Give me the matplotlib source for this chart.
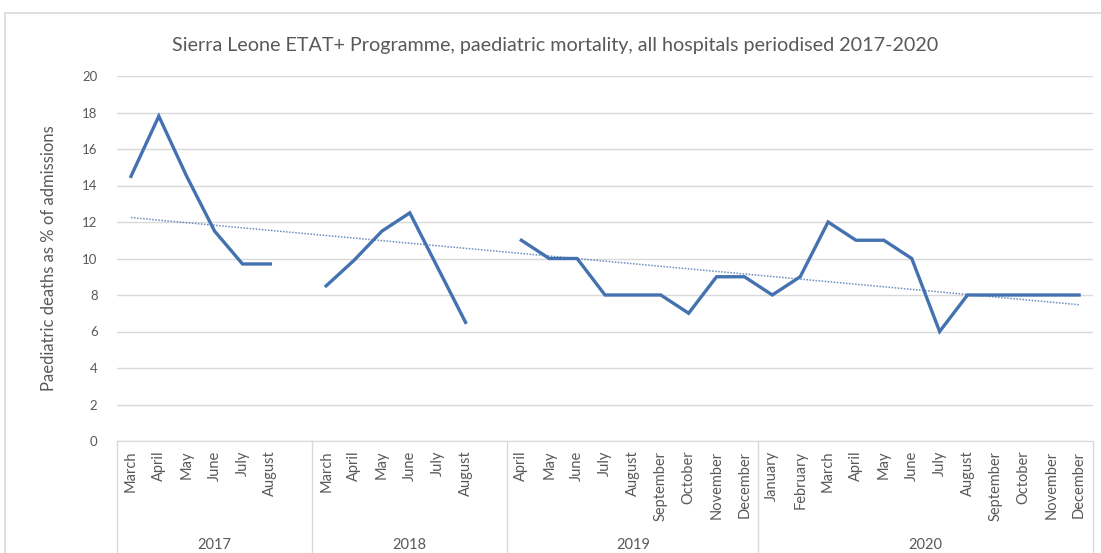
import numpy as np
import matplotlib
matplotlib.use("Agg")
import matplotlib.pyplot as plt
from matplotlib.patches import Rectangle

plt.rcParams["font.family"] = ["Lato", "DejaVu Sans"]

# category axis: year groups, months (blank slot = gap in the line)
years = ["2017", "2018", "2019", "2020"]
months_2017 = ["March", "April", "May", "June", "July", "August", ""]
months_2018 = ["March", "April", "May", "June", "July", "August", ""]
months_2019 = ["April", "May", "June", "July", "August", "September",
               "October", "November", "December"]
months_2020 = ["January", "February", "March", "April", "May", "June", "July",
               "August", "September", "October", "November", "December"]

# paediatric deaths as % of admissions (None = no data)
deaths_2017 = [14.5, 17.8, 14.5, 11.5, 9.7, 9.7, None]
deaths_2018 = [8.5, 9.9, 11.5, 12.5, 9.5, 6.5, None]
deaths_2019 = [11, 10, 10, 8, 8, 8, 7, 9, 9]
deaths_2020 = [8, 9, 12, 11, 11, 10, 6, 8, 8, 8, 8, 8]

groups = [months_2017, months_2018, months_2019, months_2020]
months = months_2017 + months_2018 + months_2019 + months_2020
values = np.array([np.nan if v is None else v
                   for v in deaths_2017 + deaths_2018 + deaths_2019 + deaths_2020])
x = np.arange(len(months))

grey_text = "#595959"
grid_col = "#d9d9d9"
line_col = "#4472b0"

fig = plt.figure(figsize=(11.01, 5.53), dpi=100)
# chart area frame
fig.patches.append(Rectangle((5 / 1101, -0.01), 1.1, 1 - 13 / 553 + 0.01,
                             transform=fig.transFigure, fill=False,
                             edgecolor="#d9d9d9", linewidth=1.2))
ax = fig.add_axes([117 / 1101, 1 - 441 / 553, (1093 - 117) / 1101, (441 - 76) / 553])

ax.plot(x, values, color=line_col, linewidth=2.4, solid_joinstyle="miter")

# linear trendline, fitted over the months that have data
ok = ~np.isnan(values)
coef = np.polyfit(x[ok], values[ok], 1)
x_tr = np.array([x[0], x[-1]])
ax.plot(x_tr, np.polyval(coef, x_tr), color=line_col,
        linewidth=1.1, linestyle=(0, (1, 1)), alpha=0.8)

ax.set_xlim(-0.5, len(months) - 0.5)
ax.set_ylim(0, 20)
ax.set_yticks(range(0, 21, 2))
ax.yaxis.grid(True, color=grid_col, linewidth=1)
ax.set_axisbelow(True)
for s in ["top", "right", "left"]:
    ax.spines[s].set_visible(False)
ax.spines["bottom"].set_color(grid_col)
ax.tick_params(axis="y", length=0, labelsize=9.5, labelcolor=grey_text, pad=14)
ax.set_xticks(x)
ax.set_xticklabels(months, rotation=90, fontsize=10.5, color=grey_text)
ax.tick_params(axis="x", length=0, pad=7)

# group separators and year labels
trans = ax.get_xaxis_transform()
edge = -0.5
for yr, grp in zip(years, groups):
    ax.plot([edge, edge], [0, -0.33], transform=trans, color=grid_col,
            linewidth=1, clip_on=False)
    ax.text(edge + len(grp) / 2, -0.285, yr, transform=trans, ha="center",
            va="center", fontsize=10.5, color=grey_text)
    edge += len(grp)
ax.plot([edge, edge], [0, -0.33], transform=trans, color=grid_col,
        linewidth=1, clip_on=False)

ax.set_ylabel("Paediatric deaths as % of admissions", fontsize=12,
              color=grey_text, labelpad=18)
fig.text(555 / 1101, 1 - 45 / 553,
         "Sierra Leone ETAT+ Programme, paediatric mortality, all hospitals periodised 2017-2020",
         ha="center", va="center", fontsize=14.2, color=grey_text)

fig.savefig("out.png", dpi=100)
